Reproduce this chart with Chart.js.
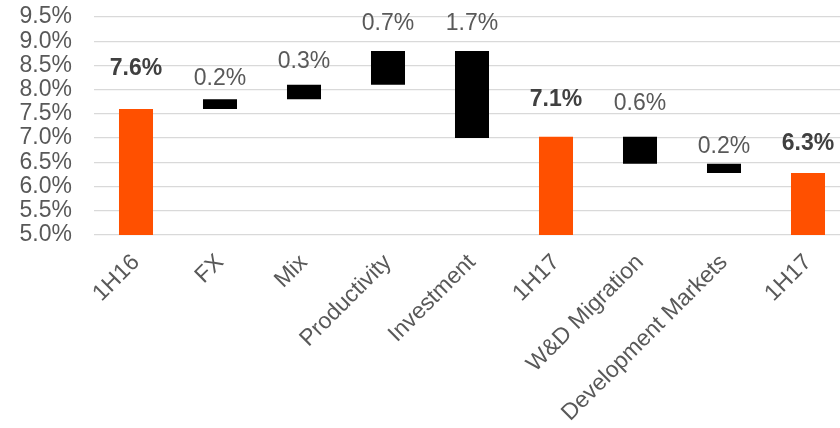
<!DOCTYPE html>
<html>
<head>
<meta charset="utf-8">
<script src="https://cdn.jsdelivr.net/npm/chart.js@4/dist/chart.umd.min.js"></script>
<style>
  html, body { margin: 0; padding: 0; background: #ffffff; overflow: hidden; }
  #wrap { width: 840px; height: 428px; overflow: hidden; }
  canvas { display: block; }
</style>
</head>
<body>
<div id="wrap"><canvas id="c" width="850" height="428"></canvas></div>
<script>
// ---- data ----
const categories = ['1H16', 'FX', 'Mix', 'Productivity', 'Investment', '1H17', 'W&D Migration', 'Development Markets', '1H17'];
const barStart   = [5.0, 7.6, 7.8, 8.1, 8.8, 5.0, 7.03, 6.47, 5.0];
const barEnd     = [7.6, 7.8, 8.1, 8.8, 7.0, 7.03, 6.47, 6.28, 6.28];
const isTotal    = [true, false, false, false, false, true, false, false, true];
const valueLabels = ['7.6%', '0.2%', '0.3%', '0.7%', '1.7%', '7.1%', '0.6%', '0.2%', '6.3%'];
const yTicks = [5.0, 5.5, 6.0, 6.5, 7.0, 7.5, 8.0, 8.5, 9.0, 9.5];

// ---- styling ----
const ORANGE = '#FF5000';
const BLACK = '#000000';
const FONT = '"Liberation Sans", Arial, sans-serif';
// baseline offsets (px) of value labels above the bar tops
const labelLift = [34, 14, 17, 21, 21, 31, 27, 11, 23];

const floating = categories.map((c, i) => [barStart[i], barEnd[i]]);

const labelPlugin = {
  id: 'valueLabels',
  afterDatasetsDraw(chart) {
    const ctx = chart.ctx;
    const meta = chart.getDatasetMeta(0);
    const ys = chart.scales.y;
    ctx.save();
    ctx.textAlign = 'center';
    ctx.textBaseline = 'alphabetic';
    meta.data.forEach((bar, i) => {
      const top = ys.getPixelForValue(Math.max(barStart[i], barEnd[i]));
      ctx.font = (isTotal[i] ? 'bold ' : '') + '23px ' + FONT;
      ctx.fillStyle = isTotal[i] ? '#404040' : '#595959';
      ctx.fillText(valueLabels[i], bar.x, top - labelLift[i]);
    });
    ctx.restore();
  }
};

new Chart(document.getElementById('c'), {
  type: 'bar',
  data: {
    labels: categories,
    datasets: [{
      data: floating,
      backgroundColor: isTotal.map(t => t ? ORANGE : BLACK),
      borderWidth: 0,
      barPercentage: 1,
      categoryPercentage: 0.405
    }]
  },
  options: {
    responsive: false,
    animation: false,
    layout: { padding: { top: 17, left: 0, right: 0, bottom: 0 } },
    plugins: {
      legend: { display: false },
      tooltip: { enabled: false }
    },
    scales: {
      x: {
        offset: true,
        grid: { display: false },
        border: { display: false },
        ticks: {
          color: '#595959',
          font: { family: FONT, size: 23 },
          minRotation: 45,
          maxRotation: 45,
          autoSkip: false,
          padding: 6
        },
        afterFit(scale) { scale.height = 193; scale.paddingLeft = 0; scale.paddingRight = 0; }
      },
      y: {
        min: 5.0,
        max: 9.5,
        afterBuildTicks(scale) { scale.ticks = yTicks.map(v => ({ value: v })); },
        grid: { color: '#d9d9d9', lineWidth: 1.3, drawTicks: false },
        border: { display: false },
        ticks: {
          color: '#595959',
          font: { family: FONT, size: 23 },
          autoSkip: false,
          padding: 22,
          callback: v => Number(v).toFixed(1) + '%'
        },
        afterFit(scale) { scale.width = 94; scale.paddingTop = 0; scale.paddingBottom = 0; }
      }
    }
  },
  plugins: [labelPlugin]
});
</script>
</body>
</html>
